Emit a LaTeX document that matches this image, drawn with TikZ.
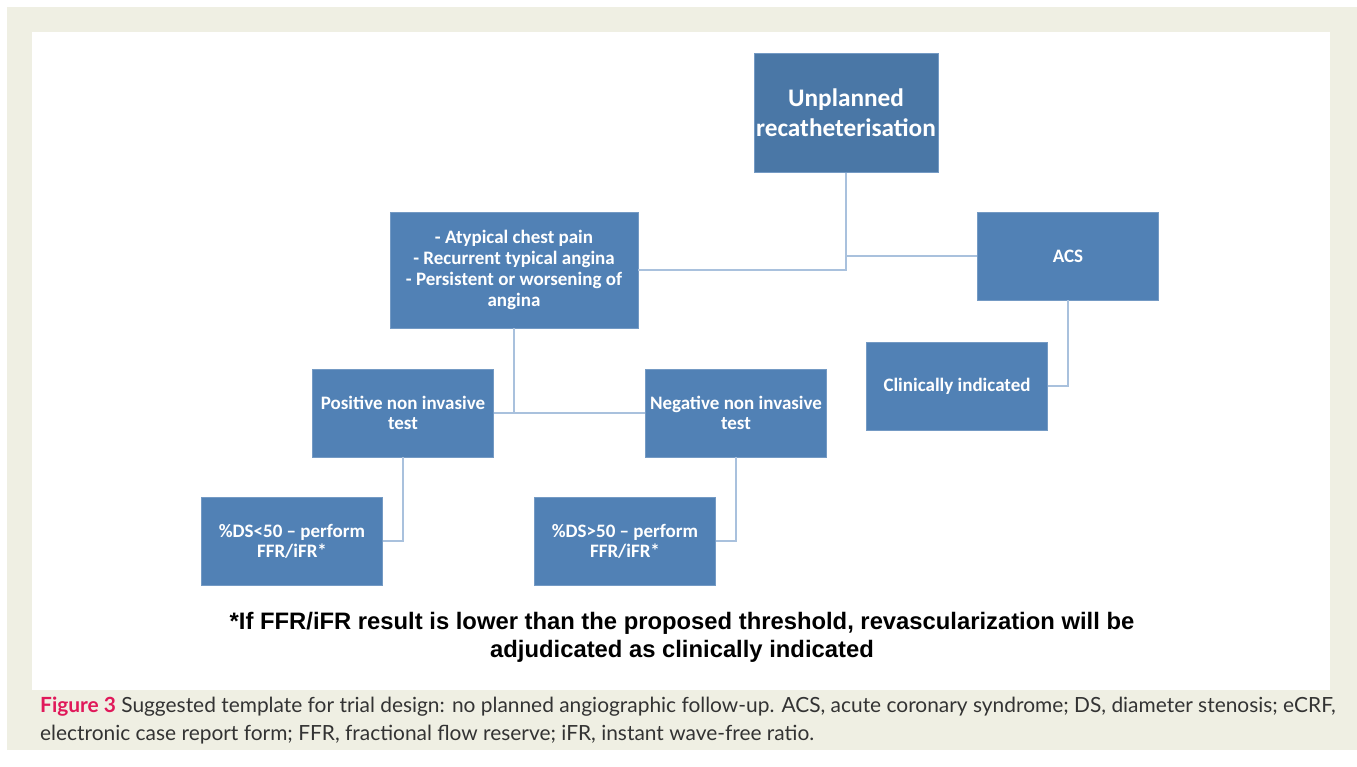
\documentclass[tikz,border=0pt]{standalone}
\usepackage{fontspec}
\setmainfont{Carlito}
\newfontfamily\notefont{Liberation Sans}
\newfontfamily\capfont{Lato}
\usetikzlibrary{positioning}
\definecolor{pagebeige}{HTML}{EFEFE3}
\definecolor{boxblue}{HTML}{5181B5}
\definecolor{topblue}{HTML}{4A77A6}
\definecolor{linkblue}{HTML}{A9C1DD}
\definecolor{figred}{HTML}{E0195A}
\definecolor{captext}{HTML}{333333}

\begin{document}
\begin{tikzpicture}
        [x=1pt, y=-1pt,
        box/.style={rectangle, fill=boxblue, draw=boxblue!80!white, line width=0.8pt,
        text=white, font=\bfseries\fontsize{19}{20}\selectfont, align=center,
        minimum width=181pt, minimum height=88pt, inner sep=2pt},
        link/.style={draw=linkblue, line width=2pt}]
        \useasboundingbox (0,0) rectangle (1357,767);
        \fill[white] (0,0) rectangle (1357,767);
        \fill[pagebeige] (7,7) rectangle (1357,750);
        \fill[white] (32,32) rectangle (1330,690);
        % boxes
        \node[box, fill=topblue, minimum height=119pt,
            font=\bfseries\fontsize{25.3}{30}\selectfont] (unpl) at (846,113)
            {Unplanned\\recatheterisation};
        \node[box, minimum width=248pt, minimum height=116pt,
            font=\bfseries\fontsize{19}{21}\selectfont] (sympt) at (514,270)
            {- Atypical chest pain\\- Recurrent typical angina\\
             - Persistent or worsening of\\angina};
        \node[box] (acs) at (1068,256) {ACS};
        \node[box] (clin) at (957,386) {Clinically indicated};
        \node[box] (pos) at (403,413) {Positive non invasive\\test};
        \node[box] (neg) at (736,413) {Negative non invasive\\test};
        \node[box] (dslow) at (292,541) {\%DS<50 -- perform\\FFR/iFR*};
        \node[box] (dshigh) at (625,541) {\%DS>50 -- perform\\FFR/iFR*};
        % connectors
        \draw[link] (unpl.south) |- (sympt.east);
        \draw[link] (unpl.south) |- (acs.west);
        \draw[link] (acs.south) |- (clin.east);
        \draw[link] (sympt.south) |- (pos.east);
        \draw[link] (pos.east) -- (neg.west);
        \draw[link] (pos.south) |- (dslow.east);
        \draw[link] (neg.south) |- (dshigh.east);
        % footnote and caption
        \node[font=\notefont\bfseries\fontsize{23.8}{28}\selectfont, align=center,
            inner sep=0pt] (note) at (682,637)
            {*If FFR/iFR result is lower than the proposed threshold, revascularization will be\\
             adjudicated as clinically indicated};
        \node[font=\capfont\fontsize{20.9}{28}\selectfont, text=captext, align=left,
            anchor=base west, inner sep=0pt] (caption) at (40,740)
            {{\color{figred}\bfseries Figure 3} Suggested template for trial design: no planned angiographic follow-up. ACS, acute coronary syndrome; DS, diameter stenosis; eCRF,\\
             electronic case report form; FFR, fractional flow reserve; iFR, instant wave-free ratio.};
\end{tikzpicture}
\end{document}
